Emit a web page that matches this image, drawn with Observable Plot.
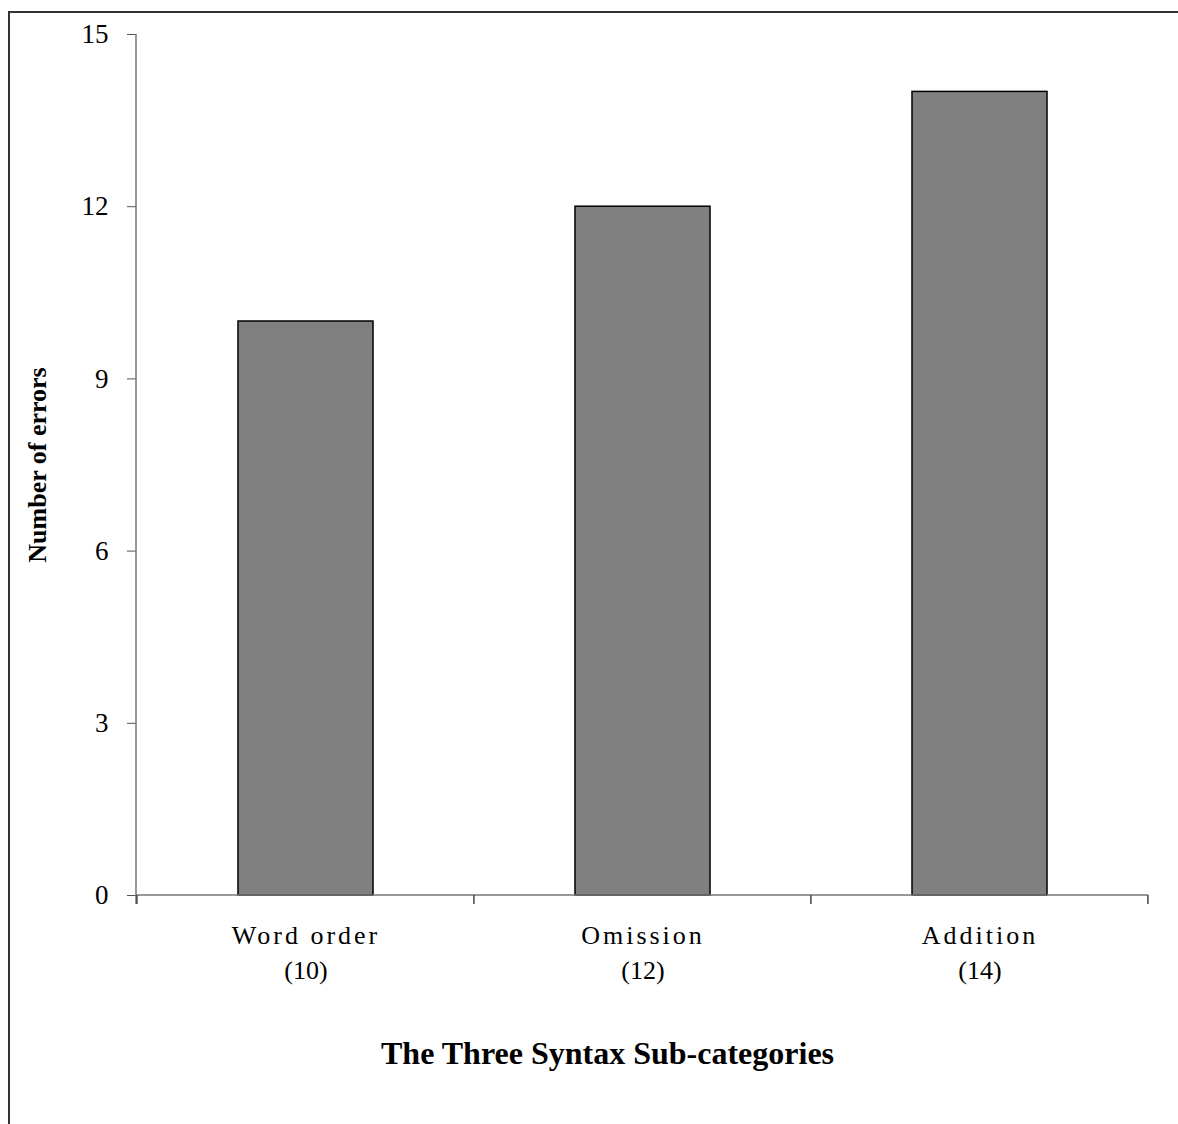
<!DOCTYPE html>
<html>
<head>
<meta charset="utf-8">
<script src="https://cdn.jsdelivr.net/npm/d3@7"></script>
<script src="https://cdn.jsdelivr.net/npm/@observablehq/plot@0.6"></script>
<style>
  html, body { margin: 0; padding: 0; background: #fff; }
  #chart svg { display: block; }
  g[aria-description="category names"] text { letter-spacing: 3px; }
</style>
</head>
<body>
<div id="chart"></div>
<script>
const categories = ["Word order", "Omission", "Addition"];
const errors = [10, 12, 14];
const yTicks = [0, 3, 6, 9, 12, 15];
const yLabel = "Number of errors";
const xTitle = "The Three Syntax Sub-categories";

const data = categories.map((c, i) => ({category: c, errors: errors[i]}));
const serif = "'Liberation Serif', 'Times New Roman', serif";
const paddingInner = 0.6;

function chrome(index, scales, values, dims) {
  const x = scales.x, y = scales.y;
  const g = d3.create("svg:g");
  const {width, height, marginLeft, marginRight} = dims;
  const right = width - marginRight;
  const y0 = y(0), yTop = y(d3.max(yTicks));
  // outer frame
  g.append("path")
    .attr("d", `M9,${height + 5}V12H${width + 5}`)
    .attr("fill", "none").attr("stroke", "#333").attr("stroke-width", 2);
  // axis lines
  g.append("line").attr("x1", marginLeft).attr("x2", marginLeft)
    .attr("y1", yTop).attr("y2", y0 + 9).attr("stroke", "#777").attr("stroke-width", 1.5);
  g.append("line").attr("x1", marginLeft).attr("x2", right)
    .attr("y1", y0).attr("y2", y0).attr("stroke", "#777").attr("stroke-width", 1.5);
  // category boundary ticks
  const starts = categories.map(c => x(c));
  const step = starts[1] - starts[0];
  const bw = step * (1 - paddingInner);
  const bounds = starts.map(s => s - (step - bw) / 2);
  bounds.push(bounds[bounds.length - 1] + step);
  for (const b of bounds) {
    g.append("line").attr("x1", b).attr("x2", b)
      .attr("y1", y0).attr("y2", y0 + 9).attr("stroke", "#444").attr("stroke-width", 1.5);
  }
  return g.node();
}

const chart = Plot.plot({
  width: 1178,
  height: 1124,
  marginTop: 34,
  marginLeft: 136,
  marginRight: 30,
  marginBottom: 229,
  style: {fontFamily: serif, background: "#fff"},
  x: {domain: categories, paddingInner: paddingInner, paddingOuter: paddingInner / 2, axis: null},
  y: {domain: [0, 15], axis: null},
  marks: [
    Plot.barY(data, {x: "category", y: "errors", fill: "#808080", stroke: "#000", strokeWidth: 1.5}),
    Plot.axisY({ticks: yTicks, tickSize: 9, tickPadding: 19, fontSize: 27, fontFamily: serif, stroke: "#555", label: null, color: "#000"}),
    chrome,
    Plot.text(data, {x: "category", y: () => 0, text: "category", dy: 40, fontSize: 26, fontFamily: serif, fill: "#000", ariaDescription: "category names"}),
    Plot.text(data, {x: "category", y: () => 0, text: d => `(${d.errors})`, dy: 75, fontSize: 26, fontFamily: serif, fill: "#000"}),
    Plot.text([yLabel], {frameAnchor: "left", textAnchor: "middle", dx: -99, rotate: -90, fontSize: 26, fontWeight: "bold", fontFamily: serif, fill: "#000"}),
    Plot.text([xTitle], {frameAnchor: "bottom", dx: -35, dy: 168, fontSize: 32, fontWeight: "bold", fontFamily: serif, fill: "#000"})
  ]
});
document.getElementById("chart").appendChild(chart);
</script>
</body>
</html>
